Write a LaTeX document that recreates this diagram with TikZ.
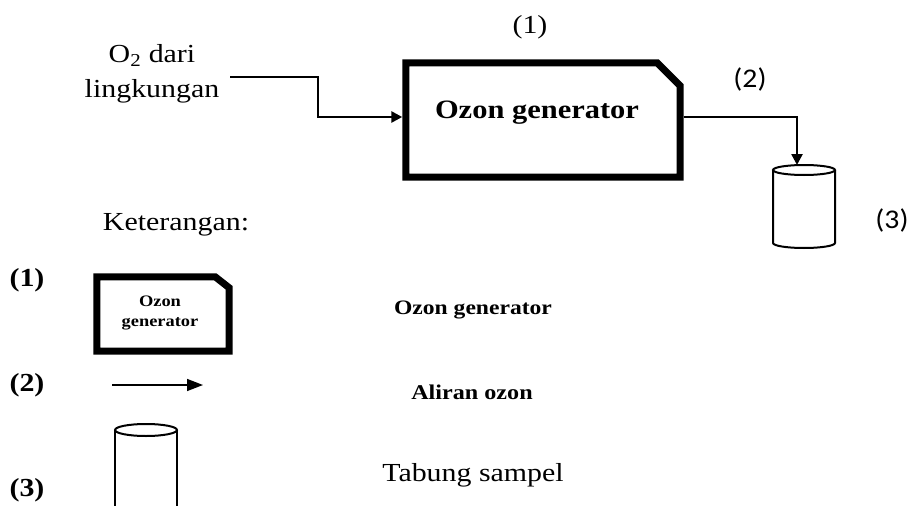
\documentclass[tikz,border=0pt]{standalone}
\usepackage{fontspec}
\setmainfont[FakeStretch=1.15]{Liberation Serif}
\newfontfamily\calfont[FakeStretch=1.1]{Carlito}
\usetikzlibrary{arrows.meta}
\begin{document}
\begin{tikzpicture}[x=1pt,y=-1pt,
  txt/.style={inner sep=0pt,align=center,font=\fontsize{26}{35}\selectfont},
  bold/.style={inner sep=0pt,align=center,font=\bfseries\fontsize{#1}{#1}\selectfont},
  cal/.style={inner sep=0pt,font=\calfont\fontsize{27}{30}\selectfont},
  genbox/.style={draw=none,inner sep=0pt,minimum width=#1},
  thickedge/.style={line width=7pt,line join=miter},
  flow/.style={line width=2.5pt,-{Triangle[length=11pt,width=11pt]}},
  legflow/.style={line width=1.5pt,-{Triangle[length=16pt,width=12pt]}},
  cyl/.style={line width=2pt}
]
\useasboundingbox (0,0) rectangle (914,506);
\clip (0,0) rectangle (914,506);

% ---------- main diagram ----------
\node[txt] (one) at (530,27) {(1)};
\node[txt] (src) at (152,74) {O\textsubscript{2} dari\\lingkungan};

\node[genbox=274pt,minimum height=114pt] (gen) at (543,120) {};
\draw[thickedge] (gen.south west) -- (gen.north west) -- ([xshift=-23pt]gen.north east)
  -- ([yshift=-23pt]gen.north east) -- (gen.south east) -- cycle;
\node[bold=26.5] (gentext) at (537,113) {Ozon generator};

\coordinate (srcend) at (230,77);
\coordinate (bend) at (318,77);
\draw[flow] (srcend) -- (bend) |- ([xshift=-3.5pt,yshift=3pt]gen.west);

% cylinder (3)
\coordinate (cyltop) at (797,165);
\draw[cyl] (804,170) ellipse [x radius=31pt,y radius=5pt];
\draw[cyl] (773,170) -- (773,243) arc[start angle=180,end angle=360,x radius=31pt,y radius=5pt] -- (835,170);
\draw[flow] ([xshift=3.5pt,yshift=3pt]gen.east) -| (cyltop);

\node[cal] (two) at (750,79) {(2)};
\node[cal] (three) at (892,220) {(3)};

% ---------- legend ----------
\node[txt] (ket) at (176,225) {Keterangan:};

\node[bold=26] (l1) at (27,280) {(1)};
\node[bold=26] (l2) at (27,385) {(2)};
\node[bold=26] (l3) at (27,490) {(3)};

\node[genbox=132pt,minimum height=74pt] (sgen) at (163,314) {};
\draw[thickedge] (sgen.south west) -- (sgen.north west) -- ([xshift=-14pt]sgen.north east)
  -- ([yshift=-11pt]sgen.north east) -- (sgen.south east) -- cycle;
\node[inner sep=0pt,align=center,font=\bfseries\fontsize{16}{20}\selectfont] (sgentext) at (160,313) {Ozon\\generator};

\coordinate (la) at (112,385);
\coordinate (lb) at (203,385);
\draw[legflow] (la) -- (lb);

\draw[cyl] (146,430) ellipse [x radius=31pt,y radius=6pt];
\draw[cyl] (115,430) -- (115,520);
\draw[cyl] (177,430) -- (177,520);

\node[bold=20.5] (d1) at (473,310) {Ozon generator};
\node[bold=21] (d2) at (472,392) {Aliran ozon};
\node[txt] (d3) at (473,475) {Tabung sampel};
\end{tikzpicture}
\end{document}
